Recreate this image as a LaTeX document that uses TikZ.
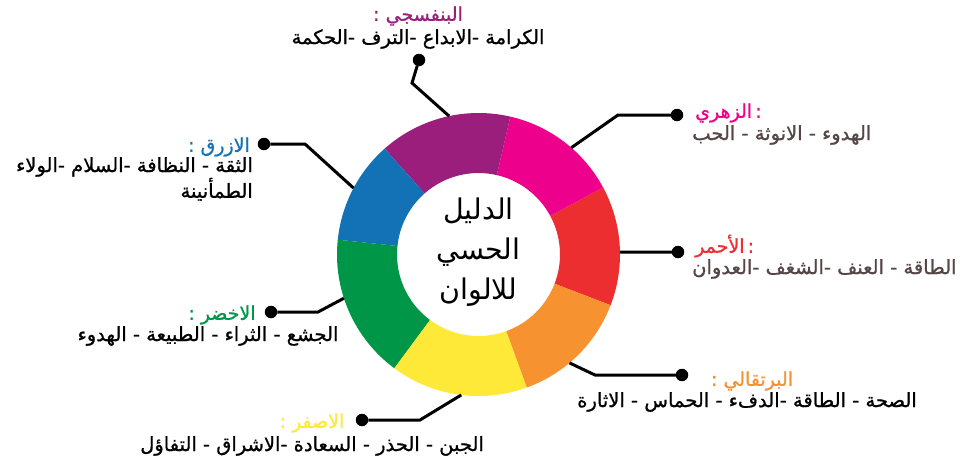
\documentclass[tikz,border=0pt]{standalone}
\usepackage{fontspec}
\newfontfamily\arabicfont[Script=Arabic]{DejaVu Sans}
\newfontfamily\arabicfontb[Script=Arabic,FakeBold=0.9]{DejaVu Sans}
\TeXXeTstate=1
\definecolor{cpurple}{RGB}{155,30,125}
\definecolor{cpink}{RGB}{236,0,140}
\definecolor{cred}{RGB}{237,46,49}
\definecolor{corange}{RGB}{246,146,48}
\definecolor{cyellow}{RGB}{255,233,56}
\definecolor{cgreen}{RGB}{0,150,72}
\definecolor{cblue}{RGB}{18,114,181}
\definecolor{cbrown}{RGB}{85,70,70}
\begin{document}
\begin{tikzpicture}[x=1pt,y=-1pt,
  conn/.style={line width=3pt, black, line join=miter},
  enddot/.style={circle, fill=black, minimum size=12.5pt, inner sep=0pt, outer sep=0pt},
  titletext/.style={font=\arabicfontb\fontsize{19}{24}\selectfont, inner sep=0pt},
  bodytext/.style={font=\arabicfontb\fontsize{19.5}{24}\selectfont, inner sep=0pt, text=black},
  centertext/.style={font=\arabicfont\fontsize{28.5}{40}\selectfont, inner sep=0pt, align=center}]
\useasboundingbox[fill=white] (0,0) rectangle (974,456);

% ring
\node[circle, minimum size=283pt, inner sep=0pt, outer sep=0pt] (ring) at (478.5,254.5) {};
\begin{scope}[shift={(478.5,254.5)}, y=1pt]
  \def\ro{141.5}\def\ri{81.5}
  \foreach \a/\b/\c in {-21/28.3/cred, 28.3/77/cpink, 77/131.5/cpurple, 131.5/174/cblue, 174/233.5/cgreen, 233.5/290/cyellow, 290/339/corange}{
    \fill[\c] (\a:\ro) arc[start angle=\a, end angle=\b, radius=\ro] -- (\b:\ri) arc[start angle=\b, end angle=\a, radius=\ri] -- cycle;
  }
\end{scope}
\node[centertext] (ctr) at (478.5,252) {\beginR الدليل\endR\\\beginR الحسي\endR\\\beginR للالوان\endR};

% dots
\node[enddot] (dpurple) at (419,60) {};
\node[enddot] (dpink) at (677,115) {};
\node[enddot] (dred) at (678,252) {};
\node[enddot] (dorange) at (682,375) {};
\node[enddot] (dyellow) at (362,420) {};
\node[enddot] (dgreen) at (271,312) {};
\node[enddot] (dblue) at (264,144) {};

\coordinate (bpurple) at (412,83);
\coordinate (bpink) at (618,115);
\coordinate (borange) at (595,375);
\coordinate (byellow) at (420,420);
\coordinate (bgreen) at (318,312);
\coordinate (bblue) at (305,144);

\draw[conn] (ring.102) -- (bpurple) -- (dpurple);
\draw[conn] (ring.49) -- (bpink) -- (dpink);
\draw[conn] (ring.1) -- (dred);
\draw[conn] (ring.-50.5) -- (borange) -- (dorange);
\draw[conn] (ring.-97) -- (byellow) -- (dyellow);
\draw[conn] (ring.198) -- (bgreen) -- (dgreen);
\draw[conn] (ring.152) -- (bblue) -- (dblue);

% labels
\node[titletext, text=cpurple] (tpurple) at (418,16) {\beginR البنفسجي :\endR};
\node[bodytext] (xpurple) at (418,39) {\beginR الكرامة -الابداع -الترف -الحكمة\endR};

\node[titletext, text=cpink, anchor=west] (tpink) at (695,113) {\beginR :\,الزهري\endR};
\node[bodytext, text=cbrown, anchor=west] (xpink) at (692,135) {\beginR الهدوء - الانوثة - الحب\endR};

\node[titletext, text=cred, anchor=west] (tred) at (695,246) {\beginR :\,الأحمر\endR};
\node[bodytext, text=cbrown, anchor=west] (xred) at (692,269) {\beginR الطاقة - العنف -الشغف -العدوان\endR};

\node[titletext, text=corange] (torange) at (752,381) {\beginR البرتقالي :\endR};
\node[bodytext] (xorange) at (747,402) {\beginR الصحة - الطاقة -الدفء - الحماس - الاثارة\endR};

\node[titletext, text=cyellow] (tyellow) at (312,423) {\beginR الاصفر :\endR};
\node[bodytext] (xyellow) at (312,446) {\beginR الجبن - الحذر - السعادة -الاشراق - التفاؤل\endR};

\node[titletext, text=cgreen] (tgreen) at (222,315) {\beginR الاخضر :\endR};
\node[bodytext] (xgreen) at (208,336) {\beginR الجشع - الثراء - الطبيعة - الهدوء\endR};

\node[titletext, text=cblue, anchor=east] (tblue) at (250,147) {\beginR الازرق :\endR};
\node[bodytext, anchor=north east, align=right] (xblue) at (253,157) {\beginR الثقة - النظافة -السلام -الولاء\endR\\\beginR الطمأنينة\endR};
\end{tikzpicture}
\end{document}
